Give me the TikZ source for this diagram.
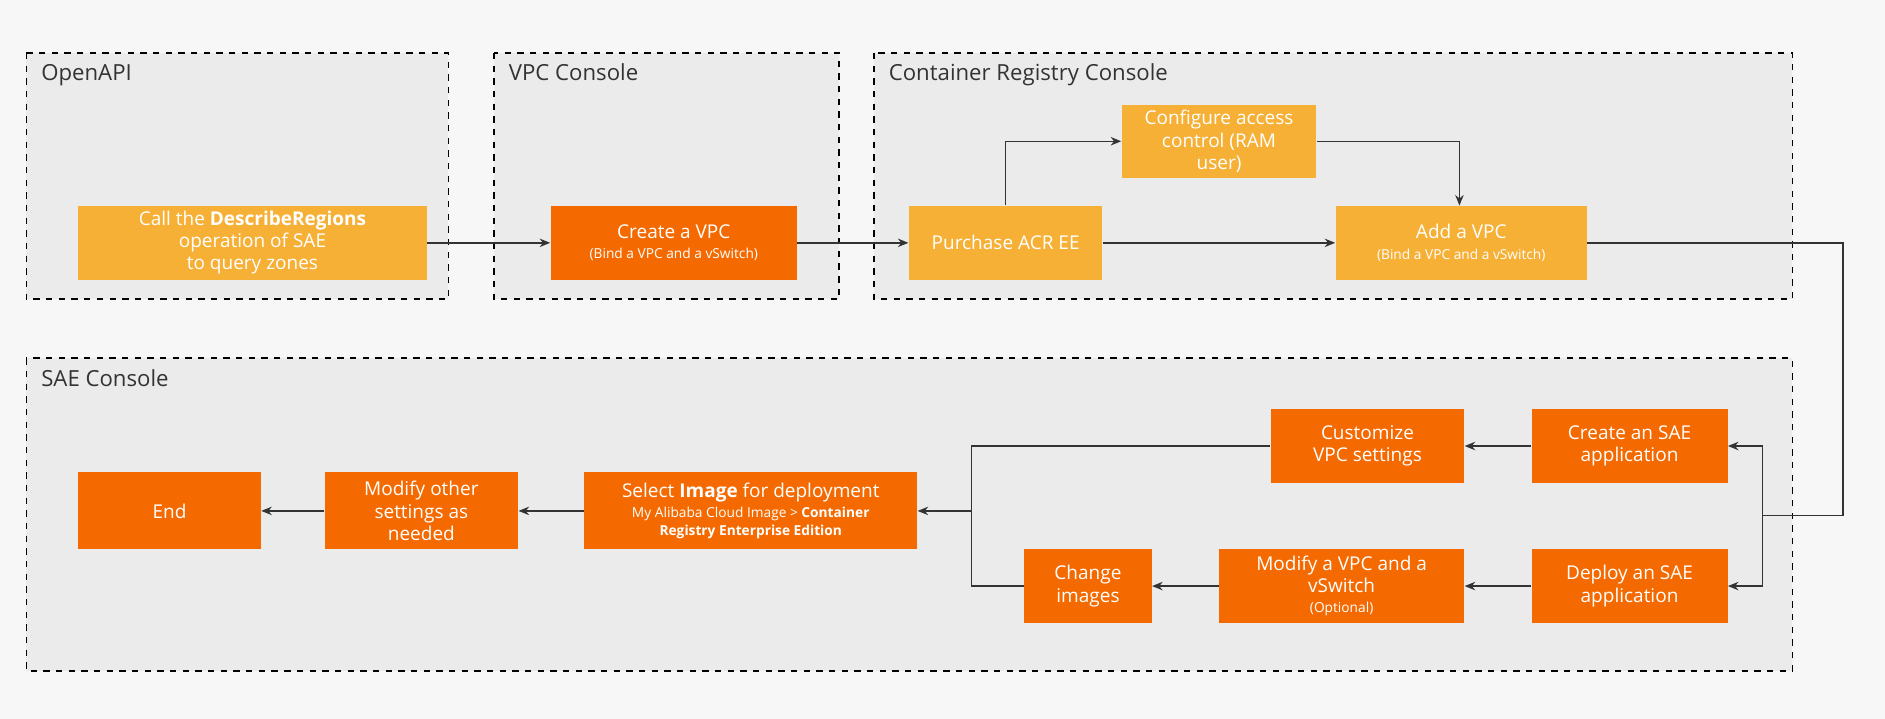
\documentclass[tikz,border=0pt]{standalone}
\usepackage{fontspec}
\setmainfont{Open Sans}
\usetikzlibrary{arrows.meta}
\definecolor{bg}{HTML}{F7F7F7}
\definecolor{grp}{HTML}{EBEBEB}
\definecolor{lo}{HTML}{F7B036}
\definecolor{dor}{HTML}{F56A00}
\begin{document}
\begin{tikzpicture}[x=0.02cm,y=-0.02cm,
 group/.style={draw=black,dashed,line width=0.8pt,fill=grp},
 gtitle/.style={anchor=north west,font=\fontsize{10.5}{12}\selectfont,text=black!80,inner sep=0pt},
 box/.style={inner sep=0pt,text=white,align=center,font=\fontsize{9}{10.5}\selectfont},
 light/.style={box,fill=lo},
 dark/.style={box,fill=dor},
 arr/.style={draw=black!80,line width=0.7pt,-{Stealth[length=5pt,width=4pt]}},
 ln/.style={draw=black!80,line width=0.7pt}]
\fill[bg] (0,0) rectangle (1568,598);
\useasboundingbox (0,0) rectangle (1568,598);
\draw[group] (22,44) rectangle (373,249);
\draw[group] (411,44) rectangle (698,249);
\draw[group] (727,44) rectangle (1491,249);
\draw[group] (22,298) rectangle (1491,558);
\node[gtitle] (t1) at (34,53) {OpenAPI};
\node[gtitle] (t2) at (423,53) {VPC Console};
\node[gtitle] (t3) at (739,53) {Container Registry Console};
\node[gtitle] (t4) at (34,307) {SAE Console};
\node[light,minimum width=5.8cm,minimum height=1.24cm] (call) at (210,202) {Call the \textbf{DescribeRegions}\\operation of SAE\\to query zones};
\node[dark,minimum width=4.1cm,minimum height=1.24cm] (cvpc) at (560.5,202) {Create a VPC\\[-1pt]{\fontsize{6.5}{8}\selectfont (Bind a VPC and a vSwitch)}};
\node[light,minimum width=3.22cm,minimum height=1.24cm] (pur) at (836.5,202) {Purchase ACR EE};
\node[light,minimum width=3.24cm,minimum height=1.22cm] (cfg) at (1014,117.5) {Configure access\\control (RAM\\user)};
\node[light,minimum width=4.18cm,minimum height=1.24cm] (avpc) at (1215.5,202) {Add a VPC\\[-1pt]{\fontsize{6.5}{8}\selectfont (Bind a VPC and a vSwitch)}};
\node[dark,minimum width=3.26cm,minimum height=1.24cm] (csae) at (1355.5,371) {Create an SAE\\application};
\node[dark,minimum width=3.22cm,minimum height=1.24cm] (cust) at (1137.5,371) {Customize\\VPC settings};
\node[dark,minimum width=3.26cm,minimum height=1.22cm] (dep) at (1355.5,487.5) {Deploy an SAE\\application};
\node[dark,minimum width=4.08cm,minimum height=1.22cm] (mvpc) at (1116,487.5) {Modify a VPC and a\\vSwitch\\[-1pt]{\fontsize{6.5}{8}\selectfont (Optional)}};
\node[dark,minimum width=2.12cm,minimum height=1.22cm] (chg) at (905,487.5) {Change\\images};
\node[dark,minimum width=5.54cm,minimum height=1.28cm] (sel) at (624.5,425) {Select \textbf{Image} for deployment\\[-1pt]{\fontsize{6.5}{8}\selectfont My Alibaba Cloud Image > \textbf{Container}}\\[-2pt]{\fontsize{6.5}{8}\selectfont\bfseries Registry Enterprise Edition}};
\node[dark,minimum width=3.22cm,minimum height=1.28cm] (mod) at (350.5,425) {Modify other\\settings as\\needed};
\node[dark,minimum width=3.04cm,minimum height=1.28cm] (end) at (141,425) {End};
\coordinate (r1) at (1533,202);
\coordinate (r2) at (1533,429);
\coordinate (sp) at (1466,429);
\coordinate (jn) at (808,425);
\coordinate (atop) at (1214,171);
\draw[arr] (call) -- (cvpc);
\draw[arr] (cvpc) -- (pur);
\draw[arr] (pur) -- (avpc);
\draw[arr] (pur.north) |- (cfg.west);
\draw[arr] (cfg.east) -| (atop);
\draw[ln] (avpc.east) -- (r1) -- (r2) -- (sp);
\draw[arr] (sp) |- (csae.east);
\draw[arr] (sp) |- (dep.east);
\draw[arr] (csae) -- (cust);
\draw[arr] (dep) -- (mvpc);
\draw[arr] (mvpc) -- (chg);
\draw[ln] (cust.west) -| (jn);
\draw[ln] (chg.west) -| (jn);
\draw[arr] (jn) -- (sel.east);
\draw[arr] (sel) -- (mod);
\draw[arr] (mod) -- (end);
\end{tikzpicture}
\end{document}
